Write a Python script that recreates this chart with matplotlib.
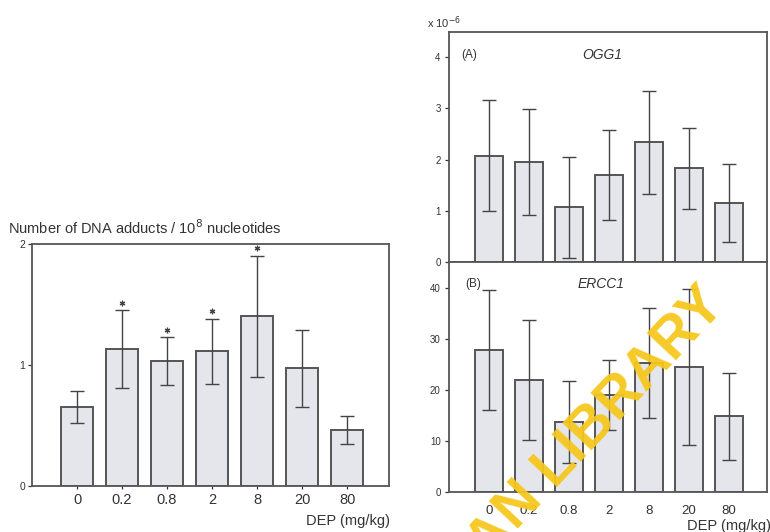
import matplotlib
matplotlib.use("Agg")
import matplotlib.pyplot as plt
import numpy as np

plt.rcParams['font.family'] = ['Liberation Sans', 'DejaVu Sans']

doses = ['0', '0.2', '0.8', '2', '8', '20', '80']
adducts_mean = [0.65, 1.13, 1.03, 1.11, 1.40, 0.97, 0.46]
adducts_err = [0.13, 0.32, 0.20, 0.27, 0.50, 0.32, 0.115]
adducts_sig = [False, True, True, True, True, False, False]
ogg1_mean = [2.08, 1.95, 1.07, 1.70, 2.34, 1.83, 1.15]
ogg1_err = [1.08, 1.04, 0.99, 0.88, 1.01, 0.79, 0.76]
ercc1_mean = [27.8, 21.9, 13.7, 19.0, 25.3, 24.5, 14.9]
ercc1_err = [11.7, 11.7, 8.0, 6.8, 10.7, 15.2, 8.5]

FILL = '#e5e6ec'
EDGE = '#555555'
TXT = '#333333'

W, H = 770, 532
fig = plt.figure(figsize=(W / 100, H / 100), dpi=100)


def ax_px(x0, y_top, x1, y_bot):
    return fig.add_axes([x0 / W, 1 - y_bot / H, (x1 - x0) / W, (y_bot - y_top) / H])


x = np.arange(len(doses))

# ---- Left panel: DNA adducts
ax1 = ax_px(32, 243.5, 389, 486)
ax1.bar(x, adducts_mean, width=0.7, color=FILL, edgecolor=EDGE, linewidth=1.4, zorder=2)
ax1.errorbar(x, adducts_mean, yerr=adducts_err, fmt='none', ecolor='#444444',
             elinewidth=1.0, capsize=5, capthick=1.0, zorder=3)
sig_x = [xi for xi, s in zip(x, adducts_sig) if s]
sig_y = [m + e + 0.06 for m, e, s in zip(adducts_mean, adducts_err, adducts_sig) if s]
ax1.plot(sig_x, sig_y, ls='none', marker=(6, 2, 0), ms=4, color='#444444', mew=0.9,
         clip_on=False, zorder=4)
ax1.set_xlim(-1, 6.93)
ax1.set_ylim(0, 2)
ax1.set_yticks([0, 1, 2])
ax1.set_xticks(x)
ax1.set_xticklabels(doses)
ax1.tick_params(axis='y', direction='out', length=3, width=0.9, labelsize=7.5,
                colors=TXT, pad=2)
ax1.tick_params(axis='x', direction='out', length=2, width=0.9, labelsize=10.5,
                colors=TXT, pad=3)
for sp in ax1.spines.values():
    sp.set_color(EDGE)
    sp.set_linewidth(1.3)
fig.text(8 / W, 1 - 228 / H, 'Number of DNA adducts / 10$^8$ nucleotides',
         fontsize=10.5, color=TXT, va='center', ha='left')
fig.text(390 / W, 1 - 521 / H, 'DEP (mg/kg)', fontsize=10.5, color=TXT,
         va='center', ha='right')

# ---- Right panel A: OGG1
axA = ax_px(449, 31.7, 767, 262)
axA.bar(x, ogg1_mean, width=0.7, color=FILL, edgecolor=EDGE, linewidth=1.4, zorder=2)
axA.errorbar(x, ogg1_mean, yerr=ogg1_err, fmt='none', ecolor='#444444',
             elinewidth=1.0, capsize=5, capthick=1.0, zorder=3)
axA.set_xlim(-1, 6.95)
axA.set_ylim(0, 4.5)
axA.set_yticks([0, 1, 2, 3, 4])
axA.set_xticks([])
axA.tick_params(axis='y', direction='out', length=3, width=0.9, labelsize=7,
                colors=TXT, pad=3)
axA.text(0.037, 0.9, '(A)', transform=axA.transAxes, fontsize=8.5, color=TXT,
         ha='left', va='center')
axA.text(0.482, 0.9, 'OGG1', transform=axA.transAxes, fontsize=10, color=TXT,
         ha='center', va='center', style='italic')
for sp in axA.spines.values():
    sp.set_color(EDGE)
    sp.set_linewidth(1.3)
fig.text(427 / W, 1 - 23 / H, 'x 10$^{-6}$', fontsize=8, color=TXT, va='center', ha='left')

# ---- Right panel B: ERCC1
axB = ax_px(449, 262, 767, 492.3)
axB.bar(x, ercc1_mean, width=0.7, color=FILL, edgecolor=EDGE, linewidth=1.4, zorder=2)
axB.errorbar(x, ercc1_mean, yerr=ercc1_err, fmt='none', ecolor='#444444',
             elinewidth=1.0, capsize=5, capthick=1.0, zorder=3)
axB.set_xlim(-1, 6.95)
axB.set_ylim(0, 45)
axB.set_yticks([0, 10, 20, 30, 40])
axB.set_xticks(x)
axB.set_xticklabels(doses)
axB.tick_params(axis='y', direction='out', length=3, width=0.9, labelsize=7,
                colors=TXT, pad=3)
axB.tick_params(axis='x', length=0, labelsize=9.5, colors=TXT, pad=9)
axB.text(0.05, 0.905, '(B)', transform=axB.transAxes, fontsize=8.5, color=TXT,
         ha='left', va='center')
axB.text(0.477, 0.905, 'ERCC1', transform=axB.transAxes, fontsize=10, color=TXT,
         ha='center', va='center', style='italic')
for sp in axB.spines.values():
    sp.set_color(EDGE)
    sp.set_linewidth(1.3)
fig.text(771 / W, 1 - 526 / H, 'DEP (mg/kg)', fontsize=10.5, color=TXT,
         va='center', ha='right')

# ---- Watermark (anchored at the baseline-left of the "N")
wx, wy = 516 / W, 1 - 531 / H
fig.text(wx, wy, 'N LIBRARY', rotation=46.8, color='#f6c71c', fontsize=41,
         fontweight='bold', ha='left', va='baseline', rotation_mode='anchor',
         alpha=0.95, zorder=10)
fig.text(wx, wy, 'IBADA', rotation=46.8, color='#f6c71c', fontsize=41,
         fontweight='bold', ha='right', va='baseline', rotation_mode='anchor',
         alpha=0.95, zorder=10)

fig.savefig('out.png', dpi=100)
